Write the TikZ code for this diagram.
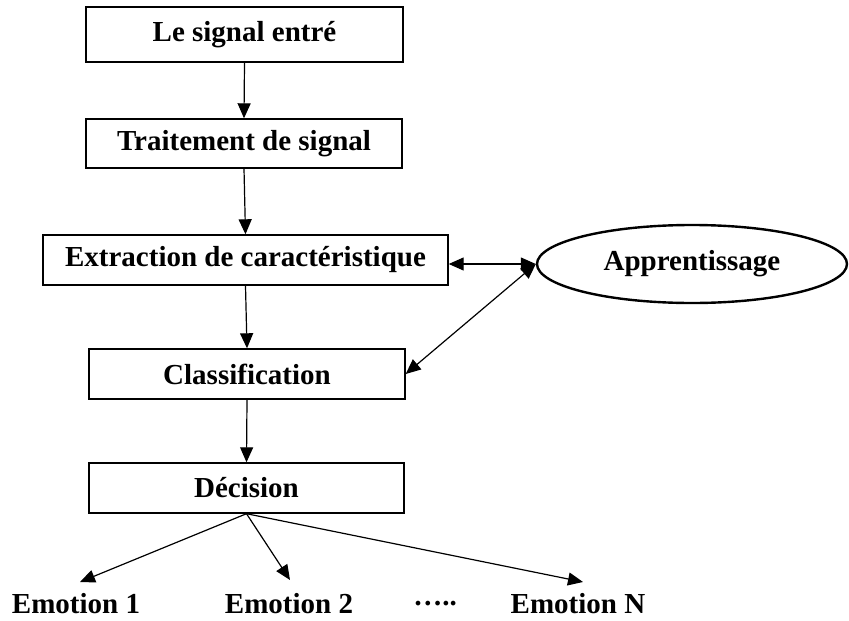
\documentclass[tikz,border=0pt]{standalone}
\usepackage{fontspec}
\setmainfont{Liberation Serif}
\usetikzlibrary{arrows.meta,shapes.geometric}
\begin{document}
\begin{tikzpicture}[x=1pt,y=-1pt,
  lbl/.style={font=\fontsize{29}{34}\selectfont\bfseries, inner sep=0pt},
  stepbox/.style={draw, line width=1.4pt, lbl, rectangle},
  arr/.style={line width=1.2pt, -{Triangle[length=15pt,width=13pt]}},
  darr/.style={line width=1.2pt, {Triangle[length=15pt,width=13pt]}-{Triangle[length=15pt,width=13pt]}}]
\useasboundingbox (0,0) rectangle (849,621);
\node[stepbox, minimum width=317pt, minimum height=55pt] (b1) at (244.5,34.5) {Le signal entré};
\node[stepbox, minimum width=316pt, minimum height=49pt] (b2) at (244,143.5) {Traitement de signal};
\node[stepbox, minimum width=405pt, minimum height=50pt] (b3) at (245.5,260) {Extraction de caractéristique};
\node[stepbox, minimum width=316pt, minimum height=50pt] (b4) at (247,374) {Classification};
\node[stepbox, minimum width=315pt, minimum height=50pt] (b5) at (246.5,488) {Décision};
\node[lbl, draw, ellipse, line width=2.4pt, minimum width=310pt, minimum height=78pt] (ap) at (692,264) {Apprentissage};
\node[lbl] (e1) at (76,604) {Emotion 1};
\node[lbl] (e2) at (289,604) {Emotion 2};
\node[lbl] (dots) at (435,604) {…..};
\node[lbl] (en) at (578,604) {Emotion N};
\coordinate (t1) at (80,582);
\coordinate (t2) at (290,580);
\coordinate (tn) at (583,582);
\draw[arr] (b1.south) -- (b2.north);
\draw[arr] (b2.south) -- (b3.north);
\draw[arr] (b3.south) -- (b4.north);
\draw[arr] (b4.south) -- (b5.north);
\draw[darr] (b3.east |- ap.west) -- (ap.west);
\draw[darr] (ap.west) -- (b4.east);
\draw[arr] (b5.south) -- (t1);
\draw[arr] (b5.south) -- (t2);
\draw[arr] (b5.south) -- (tn);
\end{tikzpicture}
\end{document}
